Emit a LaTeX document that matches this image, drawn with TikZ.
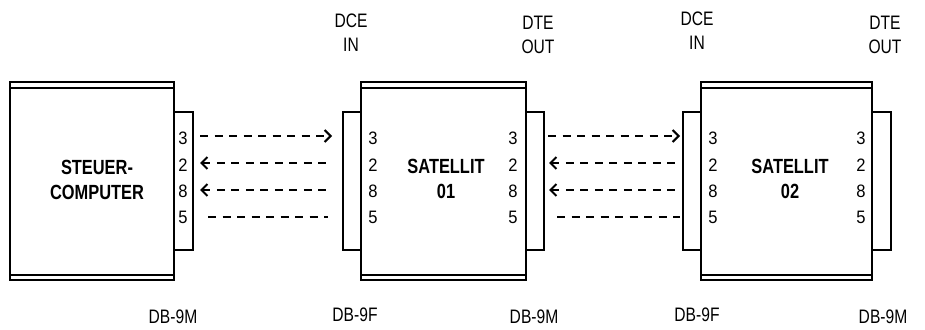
\documentclass[tikz,border=0pt]{standalone}
\usepackage{fontspec}
\setmainfont{Liberation Sans}
\newfontfamily\labfont{Liberation Sans}[FakeStretch=0.8]
\newfontfamily\pinfont{Liberation Sans}[FakeStretch=0.92]
\usetikzlibrary{arrows.meta}
\begin{document}
\begin{tikzpicture}[x=1pt,y=-1pt,
  box/.style={draw, line width=1.7pt, fill=white, minimum height=198pt, inner sep=0pt},
  conn/.style={draw, line width=1.7pt, fill=white, minimum width=18pt, minimum height=138pt, inner sep=0pt},
  pin/.style={font=\pinfont\fontsize{18}{20}\selectfont, inner sep=0pt},
  title/.style={font=\labfont\bfseries\fontsize{20.5}{25}\selectfont, align=center, inner sep=0pt},
  lab/.style={font=\labfont\fontsize{19.5}{24}\selectfont, align=center, inner sep=0pt},
  sig/.style={line width=2pt, dash pattern=on 8pt off 6.5pt},
  tip/.style={-{Straight Barb[length=6pt,width=12pt]}},
  rtip/.style={{Straight Barb[length=6pt,width=12pt]}-}
]
\useasboundingbox (0,0) rectangle (925,329);
% connectors (behind boxes)
\node[conn, minimum width=19pt] (c1r) at (183.5,181) {};
\node[conn] (c2l) at (352,181) {};
\node[conn] (c2r) at (535,181) {};
\node[conn] (c3l) at (692,181) {};
\node[conn, minimum width=19pt] (c3r) at (881.5,181) {};
% boxes
\node[box, minimum width=164pt] (pc) at (92,181) {};
\node[box, minimum width=165pt] (s1) at (443.5,181) {};
\node[box, minimum width=171pt] (s2) at (786.5,181) {};
\foreach \b in {pc,s1,s2}{
  \draw[line width=1.7pt] ([yshift=-7pt]\b.north west) -- ([yshift=-7pt]\b.north east);
  \draw[line width=1.7pt] ([yshift=6pt]\b.south west) -- ([yshift=6pt]\b.south east);
}
% titles
\node[title] (tpc) at (97,180) {STEUER-\\COMPUTER};
\node[title] (ts1) at (446,179) {SATELLIT\\01};
\node[title] (ts2) at (790,179) {SATELLIT\\02};
% pins
\foreach \x/\n in {183/a,373/b,513/c,713/d,861/e}{
  \node[pin] (p3\n) at (\x,138) {3};
  \node[pin] (p2\n) at (\x,165) {2};
  \node[pin] (p8\n) at (\x,191) {8};
  \node[pin] (p5\n) at (\x,217) {5};
}
% signal lines gap 1
\coordinate (g1a3) at (200,136); \coordinate (g1b3) at (332,136);
\coordinate (g1a2) at (200,163); \coordinate (g1b2) at (328,163);
\coordinate (g1a8) at (200,190); \coordinate (g1b8) at (328,190);
\coordinate (g1a5) at (208,217); \coordinate (g1b5) at (328,217);
\draw[sig,tip] (g1a3) -- (g1b3);
\draw[sig,rtip] (g1a2) -- (g1b2);
\draw[sig,rtip] (g1a8) -- (g1b8);
\draw[sig] (g1a5) -- (g1b5);
% signal lines gap 2
\coordinate (g2a3) at (548,136); \coordinate (g2b3) at (680,136);
\coordinate (g2a2) at (549,163); \coordinate (g2b2) at (680,163);
\coordinate (g2a8) at (549,190); \coordinate (g2b8) at (680,190);
\coordinate (g2a5) at (557,217); \coordinate (g2b5) at (680,217);
\draw[sig,tip] (g2a3) -- (g2b3);
\draw[sig,rtip] (g2a2) -- (g2b2);
\draw[sig,rtip] (g2a8) -- (g2b8);
\draw[sig] (g2a5) -- (g2b5);
% top labels
\node[lab] (t1) at (351,33) {DCE\\IN};
\node[lab] (t2) at (538,35) {DTE\\OUT};
\node[lab] (t3) at (697,31) {DCE\\IN};
\node[lab] (t4) at (885,35) {DTE\\OUT};
% bottom labels
\node[lab] (b1) at (173,317) {DB-9M};
\node[lab] (b2) at (355,315) {DB-9F};
\node[lab] (b3) at (534,317) {DB-9M};
\node[lab] (b4) at (697,315) {DB-9F};
\node[lab] (b5) at (883,317) {DB-9M};
\end{tikzpicture}
\end{document}
